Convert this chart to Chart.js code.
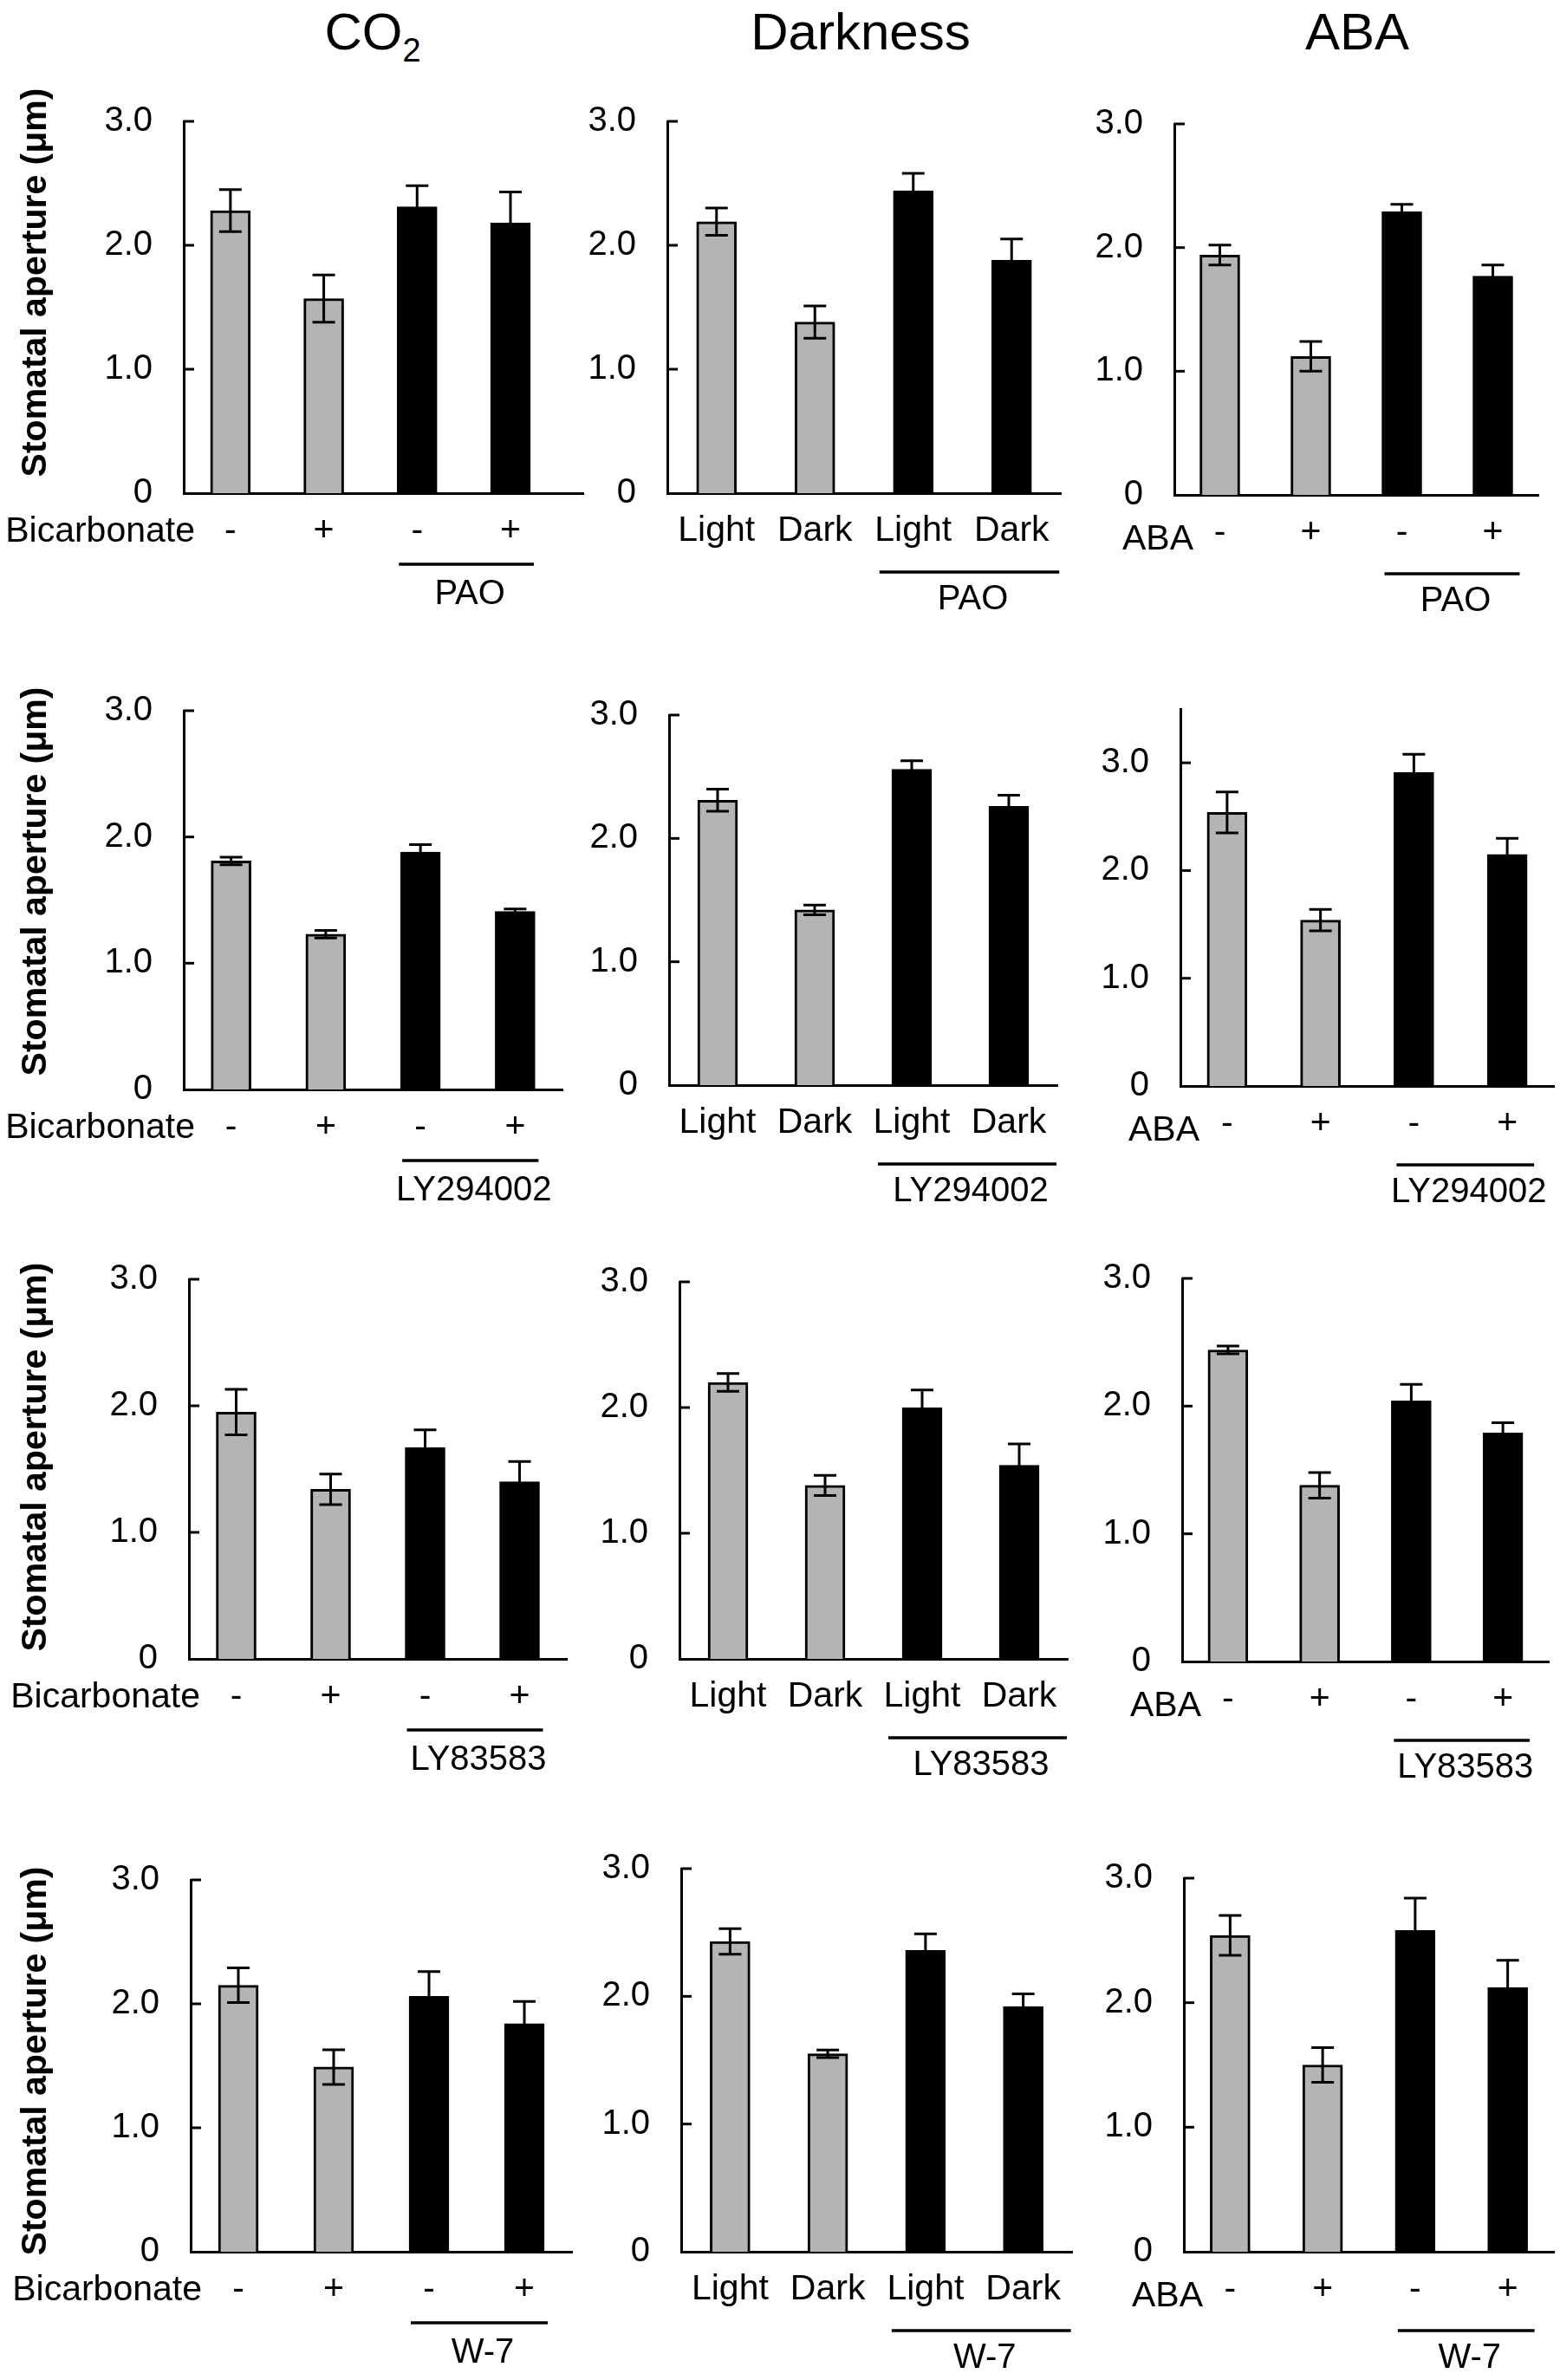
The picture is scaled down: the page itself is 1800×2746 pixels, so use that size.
<!DOCTYPE html>
<html>
<head>
<meta charset="utf-8">
<script src="https://cdn.jsdelivr.net/npm/chart.js@4.4.0/dist/chart.umd.min.js"></script>
<style>
  body { margin: 0; background: #fff; }
  #page { position: relative; width: 1800px; height: 2746px; overflow: hidden;
          font-family: 'Liberation Sans', Arial, sans-serif; color: #000; }
  #page canvas { position: absolute; }
  .col-title { position: absolute; top: 0; font-size: 60px; line-height: 74px;
               transform: translateX(-50%); white-space: nowrap; }
  .col-title sub { font-size: 38px; line-height: 0; vertical-align: -14px; }
</style>
</head>
<body>
<div id="page">
  <div class="col-title" style="left:430px">CO<sub>2</sub></div>
  <div class="col-title" style="left:993px">Darkness</div>
  <div class="col-title" style="left:1566px">ABA</div>
</div>
<script>
// ---- data ----
const rowLabels = ['Bicarbonate', '', 'ABA'];
const co2Categories = ['-', '+', '-', '+'];
const darkCategories = ['Light', 'Dark', 'Light', 'Dark'];
const abaCategories = ['-', '+', '-', '+'];
const inhibitors = ['PAO', 'LY294002', 'LY83583', 'W-7'];
const yTickValues = [0, 1, 2, 3];
const yTitle = 'Stomatal aperture (μm)';

// one small array per row: PAO, LY294002, LY83583, W-7
const co2Means = [
  [2.28, 1.57, 2.31, 2.18],
  [1.81, 1.23, 1.88, 1.41],
  [1.95, 1.34, 1.67, 1.40],
  [2.15, 1.49, 2.06, 1.84],
];
const co2Errors = [
  [0.17, 0.19, 0.17, 0.25],
  [0.03, 0.03, 0.06, 0.02],
  [0.18, 0.12, 0.14, 0.16],
  [0.14, 0.14, 0.20, 0.18],
];
const darkMeans = [
  [2.19, 1.38, 2.44, 1.88],
  [2.31, 1.42, 2.56, 2.26],
  [2.20, 1.38, 2.00, 1.54],
  [2.43, 1.55, 2.36, 1.92],
];
const darkErrors = [
  [0.11, 0.13, 0.14, 0.17],
  [0.09, 0.04, 0.07, 0.09],
  [0.07, 0.08, 0.14, 0.17],
  [0.10, 0.03, 0.13, 0.10],
];
const abaMeans = [
  [1.94, 1.12, 2.29, 1.77],
  [2.54, 1.54, 2.91, 2.15],
  [2.44, 1.38, 2.04, 1.79],
  [2.54, 1.50, 2.58, 2.12],
];
const abaErrors = [
  [0.08, 0.12, 0.06, 0.09],
  [0.19, 0.10, 0.17, 0.15],
  [0.03, 0.10, 0.13, 0.08],
  [0.16, 0.14, 0.26, 0.22],
];
const yMax = [
  [3, 3, 3],
  [3, 3, 3.5],
  [3, 3, 3],
  [3, 3, 3],
];

// ---- layout (pixels on the page) ----
const panelBoxes = [
  [{ left: 212, right: 673, top: 140, zero: 569, xMax: 4.78 },
   { left: 770, right: 1224, top: 140, zero: 569, xMax: 4.5 },
   { left: 1355, right: 1775, top: 143, zero: 571, xMax: 4.5 }],
  [{ left: 212, right: 649, top: 820, zero: 1257, xMax: 4.5 },
   { left: 772, right: 1220, top: 825, zero: 1252, xMax: 4.5 },
   { left: 1362, right: 1793, top: 818, zero: 1253, xMax: 4.5 }],
  [{ left: 218, right: 654, top: 1476, zero: 1914, xMax: 4.5 },
   { left: 784, right: 1232, top: 1479, zero: 1914, xMax: 4.5 },
   { left: 1364, right: 1787, top: 1475, zero: 1917, xMax: 4.5 }],
  [{ left: 220, right: 660, top: 2169, zero: 2598, xMax: 4.5 },
   { left: 786, right: 1237, top: 2156, zero: 2598, xMax: 4.5 },
   { left: 1366, right: 1793, top: 2167, zero: 2598, xMax: 4.5 }],
];
const yTitleCenters = [326, 1017, 1681, 2378];
const columnStyle = [
  { leftRoom: null, lineFrom: -21, lineTo: 27, lineY: 82, nameY: 117, rowLabelDx: 13, rowLabelY: 45 },
  { leftRoom: 100, lineFrom: -39, lineTo: 55, lineY: 91, nameY: 123, rowLabelDx: 0, rowLabelY: 45 },
  { leftRoom: 90, lineFrom: -20, lineTo: 31, lineY: 91, nameY: 123, rowLabelDx: 22, rowLabelY: 52 },
];

const FONT = "'Liberation Sans', Arial, sans-serif";
const GRAY = '#b4b4b4';
// must exceed the y scale's own top padding (half a label + tick padding)
const PAD_TOP = 64;
const X_AXIS_H = 150;

Chart.defaults.font.family = FONT;
Chart.defaults.color = '#000';

// error bars, inward ticks, row label, inhibitor bar + name, y title
const extrasPlugin = {
  id: 'extras',
  afterDatasetsDraw(chart) {
    const { ctx, scales: { x, y } } = chart;
    const ex = chart.options.plugins.extras;
    ctx.save();
    ctx.strokeStyle = '#000';
    ctx.lineWidth = 3;
    ex.means.forEach((m, i) => {
      const px = x.getPixelForValue(i + 1);
      const hi = y.getPixelForValue(m + ex.errors[i]);
      const lo = y.getPixelForValue(m - ex.errors[i]);
      ctx.beginPath();
      ctx.moveTo(px, hi); ctx.lineTo(px, lo);
      ctx.moveTo(px - 13, hi); ctx.lineTo(px + 13, hi);
      ctx.moveTo(px - 13, lo); ctx.lineTo(px + 13, lo);
      ctx.stroke();
    });
    ctx.restore();
  },
  afterDraw(chart) {
    const { ctx, chartArea, scales: { x, y } } = chart;
    const ex = chart.options.plugins.extras;
    const st = ex.style;
    ctx.save();
    ctx.strokeStyle = '#000';
    ctx.fillStyle = '#000';
    ctx.lineWidth = 3;
    // inward tick marks
    yTickValues.forEach(v => {
      if (v === 0) return;
      const py = y.getPixelForValue(v);
      ctx.beginPath();
      ctx.moveTo(chartArea.left, py);
      ctx.lineTo(chartArea.left + 12, py);
      ctx.stroke();
    });
    const base = chartArea.bottom;
    // row label on the left of the category labels
    if (ex.rowLabel) {
      ctx.font = '41px ' + FONT;
      ctx.textAlign = 'right';
      ctx.textBaseline = 'middle';
      ctx.fillText(ex.rowLabel, chartArea.left + st.rowLabelDx, base + st.rowLabelY);
    }
    // inhibitor bracket
    const x1 = x.getPixelForValue(3) + st.lineFrom;
    const x2 = x.getPixelForValue(4) + st.lineTo;
    ctx.lineWidth = 3.5;
    ctx.beginPath();
    ctx.moveTo(x1, base + st.lineY);
    ctx.lineTo(x2, base + st.lineY);
    ctx.stroke();
    ctx.font = '40px ' + FONT;
    ctx.textAlign = 'center';
    ctx.textBaseline = 'middle';
    ctx.fillText(ex.inhibitor, (x1 + x2) / 2 + 4, base + st.nameY);
    // y axis title (first column only)
    if (ex.yTitleY != null) {
      ctx.translate(42, ex.yTitleY);
      ctx.rotate(-Math.PI / 2);
      ctx.font = 'bold 41px ' + FONT;
      ctx.textAlign = 'center';
      ctx.fillText(yTitle, 0, 0);
    }
    ctx.restore();
  }
};

const page = document.getElementById('page');
const columns = [
  { cats: co2Categories, means: co2Means, errors: co2Errors },
  { cats: darkCategories, means: darkMeans, errors: darkErrors },
  { cats: abaCategories, means: abaMeans, errors: abaErrors },
];

panelBoxes.forEach((row, r) => {
  row.forEach((p, c) => {
    const col = columns[c];
    const st = columnStyle[c];
    const canvasLeft = st.leftRoom == null ? 0 : p.left - st.leftRoom;
    const canvasTop = p.top - PAD_TOP;
    const padRight = Math.min(12, 1800 - p.right);
    const yW = p.left - canvasLeft;
    const w = p.right - canvasLeft + padRight;
    const h = PAD_TOP + (p.zero - p.top) + X_AXIS_H;

    const canvas = document.createElement('canvas');
    canvas.width = w;
    canvas.height = h;
    canvas.style.left = canvasLeft + 'px';
    canvas.style.top = canvasTop + 'px';
    canvas.style.width = w + 'px';
    canvas.style.height = h + 'px';
    page.appendChild(canvas);

    const means = col.means[r];
    new Chart(canvas, {
      type: 'bar',
      data: {
        datasets: [{
          data: means.map((m, i) => ({ x: i + 1, y: m })),
          backgroundColor: [GRAY, GRAY, '#000', '#000'],
          borderColor: '#000',
          borderWidth: 3,
          barThickness: 46,
        }],
      },
      options: {
        responsive: false,
        animation: false,
        devicePixelRatio: 1,
        layout: { padding: { top: PAD_TOP, right: padRight, left: 0, bottom: 0 } },
        plugins: {
          legend: { display: false },
          tooltip: { enabled: false },
          extras: {
            means: means,
            errors: col.errors[r],
            rowLabel: rowLabels[c],
            inhibitor: inhibitors[r],
            style: st,
            yTitleY: c === 0 ? yTitleCenters[r] - canvasTop : null,
          },
        },
        scales: {
          x: {
            type: 'linear',
            min: 0.5,
            max: p.xMax,
            offset: false,
            grid: { display: false, drawTicks: false },
            border: { display: true, color: '#000', width: 3 },
            afterBuildTicks: s => { s.ticks = col.cats.map((_, i) => ({ value: i + 1 })); },
            afterFit: s => { s.height = X_AXIS_H; },
            ticks: {
              autoSkip: false,
              maxRotation: 0,
              padding: 19,
              font: { size: 41 },
              callback: v => col.cats[v - 1],
            },
          },
          y: {
            min: 0,
            max: yMax[r][c],
            grid: { display: false, drawTicks: false },
            border: { display: true, color: '#000', width: 3 },
            afterBuildTicks: s => { s.ticks = yTickValues.map(v => ({ value: v })); },
            afterFit: s => { s.width = yW; },
            ticks: {
              padding: 36,
              font: { size: 40 },
              callback: v => (v === 0 ? '0' : v.toFixed(1)),
            },
          },
        },
      },
      plugins: [extrasPlugin],
    });
  });
});
</script>
</body>
</html>
